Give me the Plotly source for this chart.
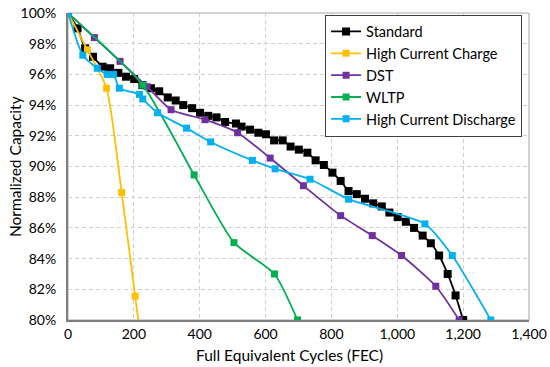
import plotly.graph_objects as go

# Standard
std_x = [0, 29, 52, 76, 105, 128, 153, 176, 201, 226, 252, 277, 303, 327, 350, 377, 401, 426,
         451, 477, 510, 527, 553, 578, 601, 626, 652, 676, 701, 727, 752, 777, 803, 828, 852,
         877, 902, 927, 953, 976, 1001, 1026, 1051, 1077, 1102, 1127, 1153, 1177, 1200]
std_y = [100, 99.0, 97.7, 97.15, 96.5, 96.4, 96.1, 95.85, 95.7, 95.3, 95.1, 94.9, 94.5, 94.3,
         94.0, 93.8, 93.5, 93.3, 93.2, 92.9, 92.8, 92.6, 92.4, 92.2, 92.1, 91.7, 91.7, 91.3,
         91.1, 90.9, 90.4, 90.1, 89.6, 89.06, 88.4, 88.2, 87.9, 87.6, 87.4, 87.0, 86.7, 86.4,
         86.0, 85.5, 85.0, 84.2, 83.0, 81.6, 80.0]

# High Current Charge
hcc_x = [0, 59, 117, 163, 204, 228]
hcc_y = [100, 97.6, 95.1, 88.3, 81.55, 77.6]

# DST
dst_x = [0, 80, 158, 240, 313, 416, 515, 614, 715, 828, 924, 1013, 1117, 1188]
dst_y = [100, 98.4, 96.85, 95.2, 93.7, 93.05, 92.2, 90.55, 88.75, 86.8, 85.5, 84.2, 82.2, 80.0]

# WLTP
wltp_x = [0, 227, 383, 504, 627, 697]
wltp_y = [100, 95.3, 89.45, 85.04, 83.0, 80.0]

# High Current Discharge
hcd_x = [0, 45, 89, 119, 138, 156, 217, 227, 272, 360, 433, 560, 629, 735, 852, 1084, 1167, 1284]
hcd_y = [100, 97.25, 96.4, 96.0, 96.0, 95.1, 94.7, 94.4, 93.5, 92.5, 91.6, 90.4, 89.85, 89.17,
         87.87, 86.26, 84.2, 80.0]

x_ticks = [0, 200, 400, 600, 800, 1000, 1200, 1400]
y_ticks = [80, 82, 84, 86, 88, 90, 92, 94, 96, 98, 100]
y_tick_labels = [f"{v}%" for v in y_ticks]

series = [
    ("Standard", std_x, std_y, "#000000", 8),
    ("High Current Charge", hcc_x, hcc_y, "#FFC000", 7),
    ("DST", dst_x, dst_y, "#7030A0", 7),
    ("WLTP", wltp_x, wltp_y, "#00B050", 7),
    ("High Current Discharge", hcd_x, hcd_y, "#00B0F0", 7),
]

fig = go.Figure()
for name, xs, ys, col, ms in series:
    fig.add_trace(go.Scatter(
        x=xs, y=ys, name=name, mode="lines+markers",
        line=dict(color=col, width=1.8, shape="spline", smoothing=0.6),
        marker=dict(symbol="square", size=ms, color=col),
    ))

font = "Lato, 'Open Sans', sans-serif"
fig.update_layout(
    width=550, height=367,
    margin=dict(l=68, r=21, t=13, b=47, autoexpand=False),
    paper_bgcolor="white", plot_bgcolor="white",
    font=dict(family=font, size=14, color="#000000"),
    showlegend=True,
    legend=dict(x=0.985, y=0.995, xanchor="right", yanchor="top",
                bgcolor="white", bordercolor="#404040", borderwidth=1,
                font=dict(size=14.5, color="#000000"),
                tracegroupgap=0, itemwidth=30),
    shapes=[dict(type="rect", xref="paper", yref="paper", x0=0, y0=0, x1=1, y1=1,
                 line=dict(color="#a6a6a6", width=1), layer="below")],
    annotations=[
        dict(text="Full Equivalent Cycles (FEC)", xref="paper", yref="paper",
             x=0.4805, y=-0.114, xanchor="center", yanchor="middle", showarrow=False,
             font=dict(size=15.5, color="#000000")),
        dict(text="Normalized Capacity", xref="paper", yref="paper",
             x=-0.116, y=0.5, xanchor="center", yanchor="middle", showarrow=False,
             textangle=-90, font=dict(size=15.5, color="#000000")),
    ],
    xaxis=dict(range=[0, 1400], tickvals=x_ticks, tickformat=",", showgrid=True,
               gridcolor="#d0d0d0", griddash="4px,3px", gridwidth=1,
               showline=True, linecolor="#7f7f7f", linewidth=2, mirror=False,
               ticks="", zeroline=False, ticklabeloverflow="allow", automargin=False,
               tickfont=dict(size=14, color="#000000")),
    yaxis=dict(range=[80, 100], tickvals=y_ticks, ticktext=y_tick_labels, showgrid=True,
               gridcolor="#d0d0d0", griddash="4px,3px", gridwidth=1,
               showline=True, linecolor="#7f7f7f", linewidth=2, mirror=False,
               ticks="", zeroline=False, ticklabeloverflow="allow", ticklabelstandoff=7,
               automargin=False,
               tickfont=dict(size=14, color="#000000")),
)

fig.write_html("out.html",
               config={"displayModeBar": False},
               post_script="document.body.style.margin='0';document.body.style.overflow='hidden';")
